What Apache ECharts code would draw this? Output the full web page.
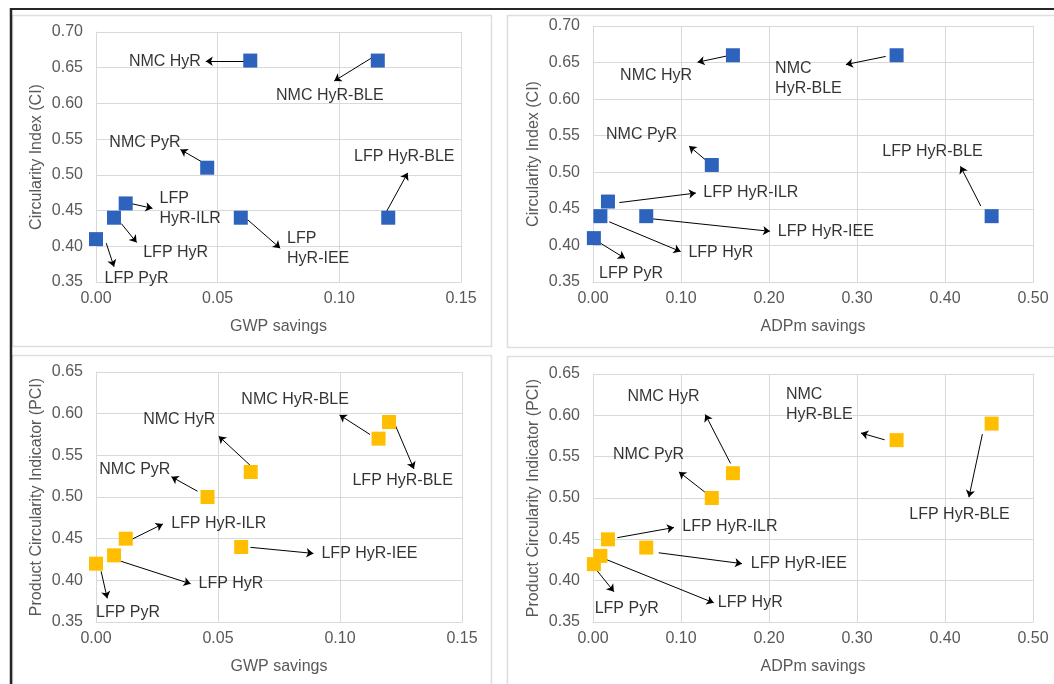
<!DOCTYPE html>
<html>
<head>
<meta charset="utf-8">
<script src="https://cdn.jsdelivr.net/npm/echarts@6/dist/echarts.min.js"></script>
<style>
html,body{margin:0;padding:0;background:#fff;}
#chart{width:1054px;height:684px;}
</style>
</head>
<body>
<div id="chart"></div>
<script>
// ---- data ----
const names = ['LFP PyR', 'LFP HyR', 'LFP HyR-ILR', 'LFP HyR-IEE', 'LFP HyR-BLE', 'NMC PyR', 'NMC HyR', 'NMC HyR-BLE'];
const gwpSavings  = [0.000, 0.0074, 0.0122, 0.0595, 0.1201, 0.0457, 0.0634, 0.1158];
const adpmSavings = [0.001, 0.0084, 0.0170, 0.0605, 0.4530, 0.1350, 0.1590, 0.3450];
const ciValues  = [0.41, 0.44, 0.46, 0.44, 0.44, 0.51, 0.66, 0.66];
const pciValues = [0.42, 0.43, 0.45, 0.44, 0.59, 0.50, 0.53, 0.57];

const gwpTicks  = { min: 0, max: 0.15, interval: 0.05 };
const adpmTicks = { min: 0, max: 0.50, interval: 0.10 };
const ciTicks   = { min: 0.35, max: 0.70, interval: 0.05 };
const pciTicks  = { min: 0.35, max: 0.65, interval: 0.05 };

// ---- annotations (label text, anchor x, anchor y, align) and arrows (x1,y1 -> x2,y2), in data units ----
const labelsTL = [
  ['NMC HyR', 0.0431, 0.659, 'right'],
  ['NMC HyR-BLE', 0.0961, 0.6115, 'center'],
  ['NMC PyR', 0.0347, 0.5453, 'right'],
  ['LFP HyR-BLE', 0.1267, 0.525, 'center'],
  ['LFP\nHyR-ILR', 0.0261, 0.4521, 'left'],
  ['LFP HyR', 0.0194, 0.3911, 'left'],
  ['LFP\nHyR-IEE', 0.0785, 0.3973, 'left'],
  ['LFP PyR', 0.0035, 0.3547, 'left']
];
const arrowsTL = [
  [0.0615, 0.659, 0.0451, 0.659],
  [0.1132, 0.6636, 0.0979, 0.6314],
  [0.0449, 0.5155, 0.0347, 0.5354],
  [0.1195, 0.4493, 0.1281, 0.5028],
  [0.0139, 0.4602, 0.0232, 0.4531],
  [0.0104, 0.4318, 0.0167, 0.4053],
  [0.0622, 0.4375, 0.0757, 0.3973],
  [0.0042, 0.4044, 0.0074, 0.3713]
];
const labelsTR = [
  ['NMC HyR', 0.0717, 0.632, 'center'],
  ['NMC\nHyR-BLE', 0.2069, 0.6283, 'left'],
  ['NMC PyR', 0.0552, 0.552, 'center'],
  ['LFP HyR-BLE', 0.3858, 0.5289, 'center'],
  ['LFP HyR-ILR', 0.1253, 0.4716, 'left'],
  ['LFP HyR-IEE', 0.2100, 0.4193, 'left'],
  ['LFP HyR', 0.1084, 0.3902, 'left'],
  ['LFP PyR', 0.0069, 0.3615, 'left']
];
const arrowsTR = [
  [0.1513, 0.6588, 0.1188, 0.6505],
  [0.3326, 0.6584, 0.2874, 0.6473],
  [0.1284, 0.5164, 0.1092, 0.5358],
  [0.4406, 0.4540, 0.4176, 0.5081],
  [0.0299, 0.4586, 0.1169, 0.4716],
  [0.0670, 0.4364, 0.2011, 0.4193],
  [0.0184, 0.4323, 0.0996, 0.3916],
  [0.0084, 0.4031, 0.0364, 0.3823]
];
const labelsBL = [
  ['NMC HyR-BLE', 0.0816, 0.6168, 'center'],
  ['NMC HyR', 0.0341, 0.5928, 'center'],
  ['LFP HyR-BLE', 0.1257, 0.5195, 'center'],
  ['NMC PyR', 0.0305, 0.5332, 'right'],
  ['LFP HyR-ILR', 0.0308, 0.4676, 'left'],
  ['LFP HyR-IEE', 0.0924, 0.4323, 'left'],
  ['LFP HyR', 0.0420, 0.3958, 'left'],
  ['LFP PyR', 0.0000, 0.3610, 'left']
];
const arrowsBL = [
  [0.1123, 0.5750, 0.0998, 0.5985],
  [0.0633, 0.5377, 0.0503, 0.5730],
  [0.1224, 0.5880, 0.1303, 0.5337],
  [0.0416, 0.5069, 0.0309, 0.5243],
  [0.0139, 0.4481, 0.0274, 0.4676],
  [0.0633, 0.4396, 0.0891, 0.4323],
  [0.0101, 0.4230, 0.0388, 0.3958],
  [0.0021, 0.4108, 0.0046, 0.3784]
];
const labelsBR = [
  ['NMC HyR', 0.0801, 0.6222, 'center'],
  ['NMC\nHyR-BLE', 0.2192, 0.6124, 'left'],
  ['LFP HyR-BLE', 0.4165, 0.4798, 'center'],
  ['NMC PyR', 0.0632, 0.5520, 'center'],
  ['LFP HyR-ILR', 0.1015, 0.4655, 'left'],
  ['LFP HyR-IEE', 0.1793, 0.4202, 'left'],
  ['LFP HyR', 0.1418, 0.3732, 'left'],
  ['LFP PyR', 0.0019, 0.3663, 'left']
];
const arrowsBR = [
  [0.1563, 0.5418, 0.1276, 0.6010],
  [0.3314, 0.5704, 0.3046, 0.5786],
  [0.4425, 0.5773, 0.4272, 0.5010],
  [0.1272, 0.5071, 0.0977, 0.5316],
  [0.0276, 0.4520, 0.0920, 0.4643],
  [0.0747, 0.4337, 0.1693, 0.4206],
  [0.0134, 0.4263, 0.1372, 0.3732],
  [0.0038, 0.4132, 0.0238, 0.3867]
];

// ---- build ----
const FONT = '"Liberation Sans", Arial, sans-serif';
const GRID_C = '#d9d9d9';
const TICK_C = '#595959';
const BLUE = '#2d62bd';
const ORANGE = '#ffbf00';

const panels = [
  { grid: { left: 96, top: 32, width: 365, height: 250 }, xs: gwpSavings, ys: ciValues, xt: gwpTicks, yt: ciTicks, xName: 'GWP savings', yName: 'Circularity Index (CI)', color: BLUE, labels: labelsTL, arrows: arrowsTL },
  { grid: { left: 593, top: 26, width: 440, height: 256 }, xs: adpmSavings, ys: ciValues, xt: adpmTicks, yt: ciTicks, xName: 'ADPm savings', yName: 'Circularity Index (CI)', color: BLUE, labels: labelsTR, arrows: arrowsTR },
  { grid: { left: 96, top: 372, width: 366, height: 250 }, xs: gwpSavings, ys: pciValues, xt: gwpTicks, yt: pciTicks, xName: 'GWP savings', yName: 'Product Circularity Indicator (PCI)', color: ORANGE, labels: labelsBL, arrows: arrowsBL },
  { grid: { left: 593, top: 374, width: 440, height: 248 }, xs: adpmSavings, ys: pciValues, xt: adpmTicks, yt: pciTicks, xName: 'ADPm savings', yName: 'Product Circularity Indicator (PCI)', color: ORANGE, labels: labelsBR, arrows: arrowsBR }
];

const grids = [], xAxes = [], yAxes = [], series = [];
panels.forEach((p, i) => {
  grids.push(Object.assign({ containLabel: false }, p.grid));
  const axisCommon = {
    gridIndex: i,
    type: 'value',
    axisLine: { show: true, lineStyle: { color: GRID_C, width: 1 } },
    axisTick: { show: false },
    splitLine: { show: true, lineStyle: { color: GRID_C, width: 1 } },
    axisLabel: { color: TICK_C, fontSize: 16, fontFamily: FONT, formatter: v => v.toFixed(2) },
    nameLocation: 'middle',
    nameTextStyle: { color: TICK_C, fontSize: 16, fontFamily: FONT }
  };
  xAxes.push(Object.assign({}, axisCommon, {
    min: p.xt.min, max: p.xt.max, interval: p.xt.interval,
    name: p.xName, nameGap: 37,
    axisLabel: Object.assign({}, axisCommon.axisLabel, { margin: 9 })
  }));
  yAxes.push(Object.assign({}, axisCommon, {
    min: p.yt.min, max: p.yt.max, interval: p.yt.interval,
    name: p.yName, nameGap: 51,
    axisLabel: Object.assign({}, axisCommon.axisLabel, { margin: 13 })
  }));
  // markers
  series.push({
    type: 'scatter', xAxisIndex: i, yAxisIndex: i,
    symbol: 'rect', symbolSize: 14, z: 5,
    itemStyle: { color: p.color, opacity: 1 },
    data: p.xs.map((x, k) => ({ name: names[k], value: [x, p.ys[k]] })),
    markLine: {
      silent: true,
      symbol: ['none', 'arrow'],
      symbolSize: 7,
      label: { show: false },
      lineStyle: { color: '#000', width: 1, type: 'solid' },
      animation: false,
      data: p.arrows.map(a => [{ coord: [a[0], a[1]] }, { coord: [a[2], a[3]] }])
    }
  });
  // annotation labels
  series.push({
    type: 'scatter', xAxisIndex: i, yAxisIndex: i,
    symbolSize: 1, z: 6, silent: true, clip: false,
    itemStyle: { color: 'transparent' },
    data: p.labels.map(l => ({
      value: [l[1], l[2]],
      label: {
        show: true, position: 'inside', formatter: l[0],
        align: l[3], verticalAlign: 'middle',
        color: '#000', fontSize: 16, fontFamily: FONT, lineHeight: 20
      }
    }))
  });
});

const frameLines = [
  { type: 'rect', shape: { x: 12.5, y: 15.5, width: 479, height: 331 }, style: { fill: 'none', stroke: '#dedede', lineWidth: 1.5 }, z: -1 },
  { type: 'rect', shape: { x: 507.5, y: 15.5, width: 600, height: 332 }, style: { fill: 'none', stroke: '#dedede', lineWidth: 1.5 }, z: -1 },
  { type: 'rect', shape: { x: 12.5, y: 355.5, width: 479, height: 360 }, style: { fill: 'none', stroke: '#dedede', lineWidth: 1.5 }, z: -1 },
  { type: 'rect', shape: { x: 507.5, y: 356.5, width: 600, height: 360 }, style: { fill: 'none', stroke: '#dedede', lineWidth: 1.5 }, z: -1 },
  { type: 'line', shape: { x1: 11, y1: 8, x2: 11, y2: 684 }, style: { stroke: '#262626', lineWidth: 2.5 } },
  { type: 'line', shape: { x1: 10, y1: 9, x2: 1054, y2: 9 }, style: { stroke: '#262626', lineWidth: 2 } }
];

const chart = echarts.init(document.getElementById('chart'), null, { renderer: 'canvas' });
chart.setOption({
  backgroundColor: '#fff',
  animation: false,
  textStyle: { fontFamily: FONT },
  graphic: frameLines,
  grid: grids,
  xAxis: xAxes,
  yAxis: yAxes,
  series: series
});
</script>
</body>
</html>
